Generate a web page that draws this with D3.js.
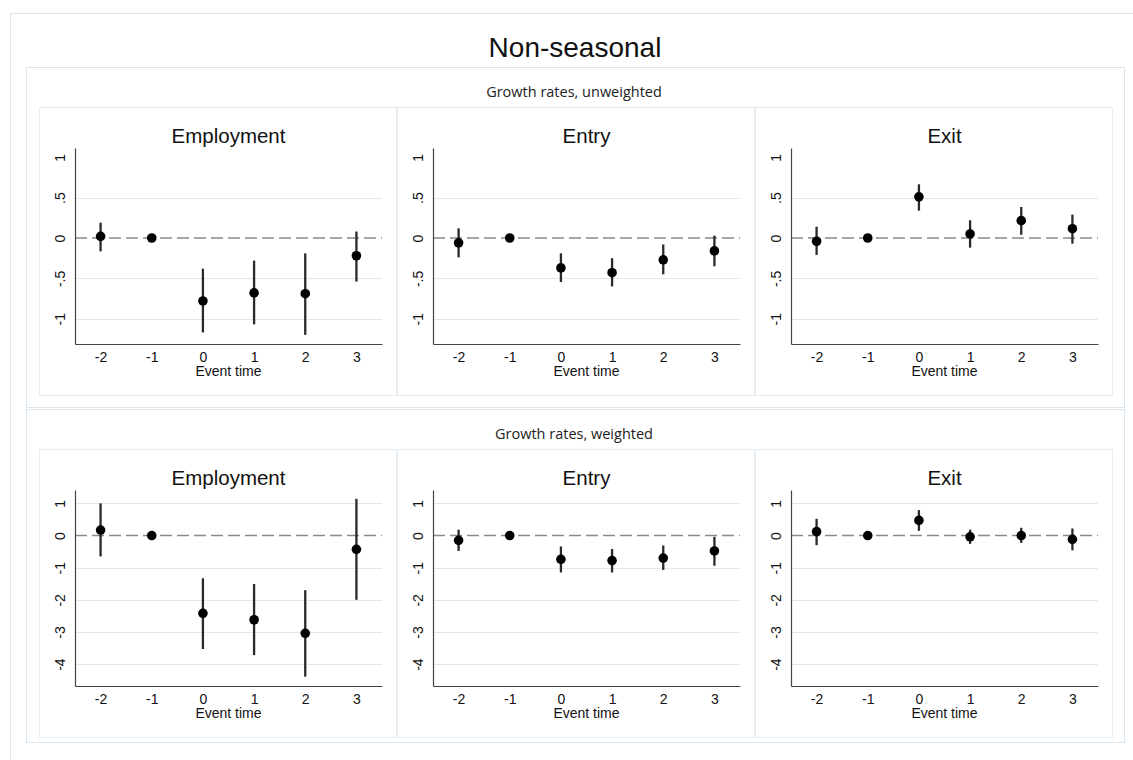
<!DOCTYPE html>
<html>
<head>
<meta charset="utf-8">
<script src="https://cdn.jsdelivr.net/npm/d3@7"></script>
<style>
  html, body { margin: 0; padding: 0; background: #ffffff; }
  svg { display: block; }
</style>
</head>
<body>
<svg id="chart" width="1133" height="760"></svg>
<script>
// Event-study estimates: point estimate with 95% confidence interval.
const eventTimes = [-2, -1, 0, 1, 2, 3];
const eventTimeLabels = ["-2", "-1", "0", "1", "2", "3"];
const panelTitles = ["Employment", "Entry", "Exit"];
const rowTitles = ["Growth rates, unweighted", "Growth rates, weighted"];
const figureTitle = "Non-seasonal";
const xAxisTitle = "Event time";

const unweightedTicks = [1, 0.5, 0, -0.5, -1];
const unweightedTickLabels = ["1", ".5", "0", "-.5", "-1"];
const weightedTicks = [1, 0, -1, -2, -3, -4];
const weightedTickLabels = ["1", "0", "-1", "-2", "-3", "-4"];

// Unweighted growth rates (event time -1 is the reference period)
const empUnwCoef = [0.02, 0, -0.78, -0.68, -0.69, -0.22];
const empUnwLo   = [-0.165, null, -1.17, -1.07, -1.20, -0.54];
const empUnwHi   = [0.19, null, -0.38, -0.28, -0.19, 0.08];

const entUnwCoef = [-0.06, 0, -0.37, -0.43, -0.27, -0.16];
const entUnwLo   = [-0.24, null, -0.545, -0.60, -0.45, -0.35];
const entUnwHi   = [0.12, null, -0.19, -0.25, -0.08, 0.03];

const exiUnwCoef = [-0.04, 0, 0.51, 0.05, 0.215, 0.115];
const exiUnwLo   = [-0.21, null, 0.34, -0.12, 0.04, -0.07];
const exiUnwHi   = [0.14, null, 0.665, 0.22, 0.385, 0.29];

// Weighted growth rates
const empWCoef = [0.17, 0, -2.42, -2.62, -3.04, -0.43];
const empWLo   = [-0.65, null, -3.53, -3.72, -4.39, -2.0];
const empWHi   = [1.0, null, -1.33, -1.51, -1.70, 1.14];

const entWCoef = [-0.15, 0, -0.74, -0.78, -0.70, -0.48];
const entWLo   = [-0.48, null, -1.15, -1.15, -1.07, -0.94];
const entWHi   = [0.18, null, -0.34, -0.42, -0.31, -0.04];

const exiWCoef = [0.12, 0, 0.47, -0.04, 0, -0.12];
const exiWLo   = [-0.30, null, 0.145, -0.26, -0.23, -0.46];
const exiWHi   = [0.52, null, 0.79, 0.18, 0.24, 0.22];

const rows = [
  {
    title: rowTitles[0],
    yDomain: [-1.313, 1.115],
    ticks: unweightedTicks,
    tickLabels: unweightedTickLabels,
    gridSkip: [1],
    series: [
      { coef: empUnwCoef, lo: empUnwLo, hi: empUnwHi },
      { coef: entUnwCoef, lo: entUnwLo, hi: entUnwHi },
      { coef: exiUnwCoef, lo: exiUnwLo, hi: exiUnwHi }
    ]
  },
  {
    title: rowTitles[1],
    yDomain: [-4.68, 1.416],
    ticks: weightedTicks,
    tickLabels: weightedTickLabels,
    gridSkip: [],
    series: [
      { coef: empWCoef, lo: empWLo, hi: empWHi },
      { coef: entWCoef, lo: entWLo, hi: entWHi },
      { coef: exiWCoef, lo: exiWLo, hi: exiWHi }
    ]
  }
];

const svg = d3.select("#chart");
const frameColor = "#d8e4ee";
const sansFont = "'Liberation Sans', Arial, sans-serif";

// Outer frame
svg.append("rect")
  .attr("x", 10.5).attr("y", 13.5)
  .attr("width", 1150).attr("height", 780)
  .attr("fill", "none").attr("stroke", frameColor);

svg.append("text")
  .attr("x", 575).attr("y", 57)
  .attr("text-anchor", "middle")
  .attr("font-family", sansFont)
  .attr("font-size", 28)
  .attr("fill", "#111")
  .text(figureTitle);

const rowBoxes = [
  { x: 26, y: 67, w: 1098, h: 340, panelTop: 107, subtitleY: 97 },
  { x: 26, y: 409, w: 1098, h: 333, panelTop: 449, subtitleY: 439 }
];
const panelLefts = [39, 397, 755];
const panelW = 357;
const panelH = 288;

rows.forEach((row, ri) => {
  const box = rowBoxes[ri];
  svg.append("rect")
    .attr("x", box.x + 0.5).attr("y", box.y + 0.5)
    .attr("width", box.w).attr("height", box.h)
    .attr("fill", "none").attr("stroke", frameColor);

  svg.append("text")
    .attr("x", 574).attr("y", box.subtitleY)
    .attr("text-anchor", "middle")
    .attr("font-family", "'Open Sans', sans-serif")
    .attr("font-size", 14.5)
    .attr("fill", "#222")
    .text(row.title);

  row.series.forEach((s, pi) => {
    const px = panelLefts[pi];
    const py = box.panelTop;

    svg.append("rect")
      .attr("x", px + 0.5).attr("y", py + 0.5)
      .attr("width", panelW).attr("height", panelH)
      .attr("fill", "none").attr("stroke", "#e6eef4");

    const plotLeft = px + 36;
    const plotRight = px + 343;
    const plotTop = py + 41;
    const plotBottom = py + 237;

    const x = d3.scaleLinear().domain([-2.5, 3.5]).range([plotLeft, plotRight]);
    const y = d3.scaleLinear().domain(row.yDomain).range([plotBottom, plotTop]);

    const g = svg.append("g");

    // Panel title
    g.append("text")
      .attr("x", (plotLeft + plotRight) / 2)
      .attr("y", py + 36)
      .attr("text-anchor", "middle")
      .attr("font-family", sansFont)
      .attr("font-size", 20.5)
      .attr("fill", "#111")
      .text(panelTitles[pi]);

    // Horizontal gridlines
    g.selectAll(".grid")
      .data(row.ticks.filter(t => t !== 0 && !row.gridSkip.includes(t)))
      .join("line")
      .attr("x1", plotLeft).attr("x2", plotRight)
      .attr("y1", d => Math.round(y(d)) + 0.5).attr("y2", d => Math.round(y(d)) + 0.5)
      .attr("stroke", "#e6e6e6").attr("stroke-width", 1);

    // Zero reference line
    g.append("line")
      .attr("x1", plotLeft).attr("x2", plotRight)
      .attr("y1", y(0)).attr("y2", y(0))
      .attr("stroke", "#8a8a8a").attr("stroke-width", 1.4)
      .attr("stroke-dasharray", "12,5");

    // Y axis
    const yAxis = d3.axisLeft(y)
      .tickValues(row.ticks)
      .tickSize(0)
      .tickFormat((d, i) => row.tickLabels[i]);
    const yg = g.append("g")
      .attr("transform", `translate(${plotLeft},0)`)
      .call(yAxis);
    yg.select(".domain").attr("stroke", "#444").attr("stroke-width", 1.2);
    yg.selectAll(".tick text")
      .attr("transform", "rotate(-90)")
      .attr("x", 0).attr("y", -10)
      .attr("dy", null)
      .attr("text-anchor", "middle")
      .attr("font-family", sansFont)
      .attr("font-size", 14)
      .attr("fill", "#111");

    // X axis
    const xAxis = d3.axisBottom(x)
      .tickValues(eventTimes)
      .tickSize(0)
      .tickFormat((d, i) => eventTimeLabels[i]);
    const xg = g.append("g")
      .attr("transform", `translate(0,${plotBottom})`)
      .call(xAxis);
    xg.select(".domain").attr("stroke", "#444").attr("stroke-width", 1.2);
    xg.selectAll(".tick text")
      .attr("y", 18).attr("dy", null)
      .attr("font-family", sansFont)
      .attr("font-size", 14)
      .attr("fill", "#111");

    g.append("text")
      .attr("x", (plotLeft + plotRight) / 2)
      .attr("y", plotBottom + 32)
      .attr("text-anchor", "middle")
      .attr("font-family", sansFont)
      .attr("font-size", 14)
      .attr("fill", "#111")
      .text(xAxisTitle);

    const pts = eventTimes.map((t, i) => ({ t, c: s.coef[i], lo: s.lo[i], hi: s.hi[i] }));

    // Confidence intervals
    g.selectAll(".ci")
      .data(pts.filter(p => p.lo !== null))
      .join("line")
      .attr("x1", p => x(p.t)).attr("x2", p => x(p.t))
      .attr("y1", p => y(p.lo)).attr("y2", p => y(p.hi))
      .attr("stroke", "#2a2a2a").attr("stroke-width", 2.3);

    // Point estimates
    g.selectAll(".pt")
      .data(pts)
      .join("circle")
      .attr("cx", p => x(p.t)).attr("cy", p => y(p.c))
      .attr("r", 4.8)
      .attr("fill", "#000");
  });
});
</script>
</body>
</html>
